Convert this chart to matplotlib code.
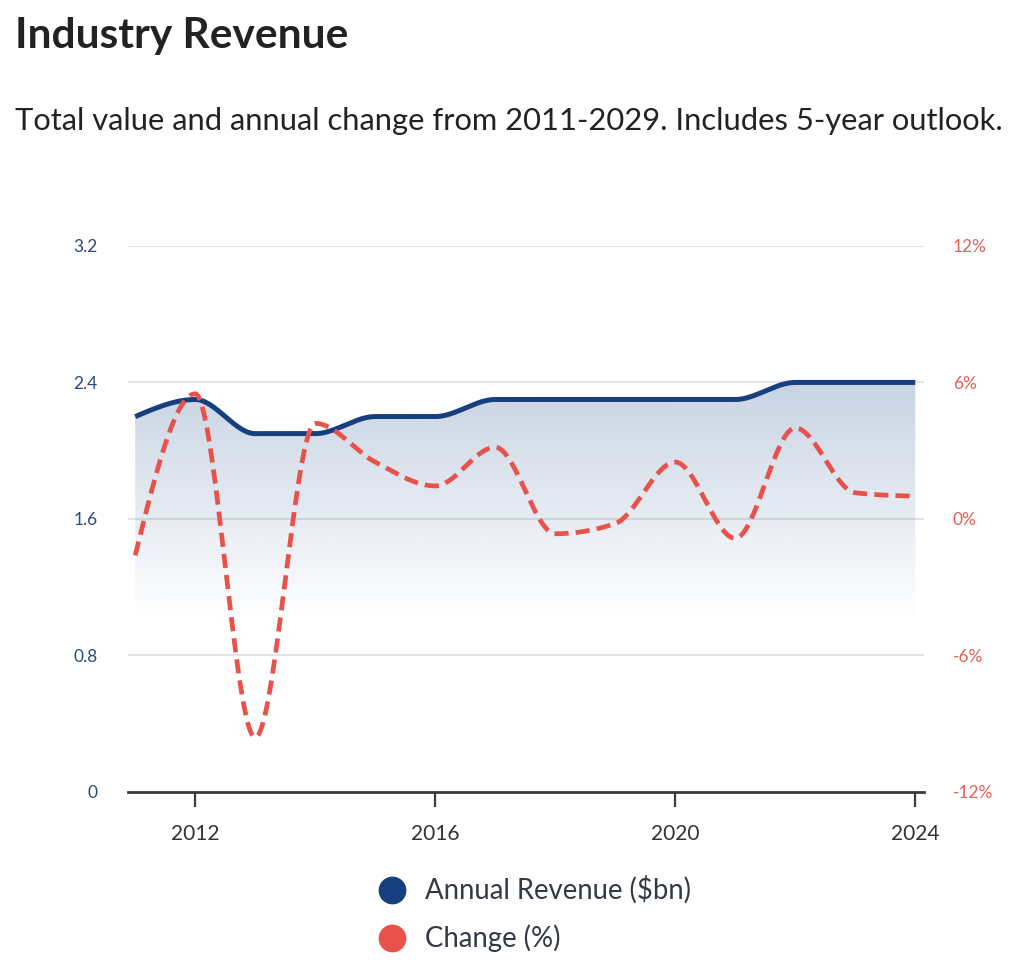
import numpy as np
import matplotlib
matplotlib.use("Agg")
import matplotlib.pyplot as plt
from matplotlib.lines import Line2D

plt.rcParams['font.family'] = ['Lato', 'DejaVu Sans']

years = [2011, 2012, 2013, 2014, 2015, 2016, 2017, 2018, 2019, 2020, 2021, 2022, 2023, 2024]
revenue = [2.2, 2.3, 2.1, 2.1, 2.2, 2.2, 2.3, 2.3, 2.3, 2.3, 2.3, 2.4, 2.4, 2.4]
change = [-1.6, 5.5, -9.6, 4.2, 2.5, 1.45, 3.15, -0.65, -0.2, 2.5, -0.85, 4.0, 1.15, 1.0]

left_ticks = [0, 0.8, 1.6, 2.4, 3.2]
left_labels = ["0", "0.8", "1.6", "2.4", "3.2"]
right_ticks = [-12, -6, 0, 6, 12]
right_labels = ["-12%", "-6%", "0%", "6%", "12%"]
x_ticks = [2012, 2016, 2020, 2024]
series_names = ["Annual Revenue ($bn)", "Change (%)"]

NAVY = "#173f7f"
RED = "#e8524a"


def monotone(x, y, n=60):
    # monotone cubic (same idea as d3.curveMonotoneX)
    x = np.asarray(x, float)
    y = np.asarray(y, float)
    h = np.diff(x)
    s = np.diff(y) / h
    m = np.zeros_like(y)
    for k in range(1, len(x) - 1):
        s0, s1 = s[k - 1], s[k]
        p = (s0 * h[k] + s1 * h[k - 1]) / (h[k - 1] + h[k])
        sg = (-1 if s0 < 0 else 1) + (-1 if s1 < 0 else 1)
        m[k] = sg * min(abs(s0), abs(s1), 0.5 * abs(p))
    m[0] = (3 * s[0] - m[1]) / 2
    m[-1] = (3 * s[-1] - m[-2]) / 2
    xs, ys = [], []
    for k in range(len(x) - 1):
        t = np.linspace(0, 1, n, endpoint=(k == len(x) - 2))
        h00 = 2 * t**3 - 3 * t**2 + 1
        h10 = t**3 - 2 * t**2 + t
        h01 = -2 * t**3 + 3 * t**2
        h11 = t**3 - t**2
        xs.append(x[k] + t * h[k])
        ys.append(h00 * y[k] + h10 * h[k] * m[k] + h01 * y[k + 1] + h11 * h[k] * m[k + 1])
    return np.concatenate(xs), np.concatenate(ys)


fig = plt.figure(figsize=(10.24, 9.72), dpi=100)
ax = fig.add_axes([0.125, 0.1852, 0.777, 0.5618])
ax2 = ax.twinx()

for v in left_ticks[1:]:
    ax.axhline(v, color="#e4e4e6", lw=1.6, zorder=0)

rx, ry = monotone(years, revenue)
cx, cy = monotone(years, change)

# gradient fill under revenue
poly = ax.fill_between(rx, ry, 0, color="none", lw=0)
grad_y = np.linspace(0, 2.4, 256)
alpha = np.clip((grad_y - 1.0) / 1.4, 0, 1) * 0.24
img = np.zeros((256, 1, 4))
img[:, 0, 0] = 0x1a / 255
img[:, 0, 1] = 0x4a / 255
img[:, 0, 2] = 0x8a / 255
img[:, 0, 3] = alpha
im = ax.imshow(img, extent=[years[0], years[-1], 0, 2.4], origin="lower",
               aspect="auto", zorder=1, interpolation="bilinear")
im.set_clip_path(poly.get_paths()[0], transform=ax.transData)

ax.plot(rx, ry, color=NAVY, lw=3.6, solid_capstyle="butt", zorder=3)
ax2.plot(cx, cy, color=RED, lw=3.4, dashes=(3.0, 1.5), dash_capstyle="butt", zorder=3)

ax.set_xlim(2010.88, 2024.14)
ax.set_ylim(0, 3.2)
ax2.set_ylim(-12, 12)

for a in (ax, ax2):
    for sp in a.spines.values():
        sp.set_visible(False)
ax.spines["bottom"].set_visible(True)
ax.spines["bottom"].set_color("#3a3a3a")
ax.spines["bottom"].set_linewidth(2)

ax.set_xticks(x_ticks)
ax.set_xticklabels([str(v) for v in x_ticks])
ax.tick_params(axis="x", length=11, width=1.6, color="#3a3a3a", pad=12,
               labelsize=15, labelcolor="#333333")

ax.set_yticks(left_ticks)
ax.set_yticklabels(left_labels)
ax.tick_params(axis="y", length=0, pad=22, labelsize=12.5, labelcolor="#2b4a7c")

ax2.set_yticks(right_ticks)
ax2.set_yticklabels(right_labels)
ax2.tick_params(axis="y", length=0, pad=21, labelsize=12.5, labelcolor="#e0605a")

fig.text(15 / 1024, 1 - 36 / 972, "Industry Revenue", fontsize=30.5, fontweight="bold",
         color="#222222", va="center", ha="left")
fig.text(15 / 1024, 1 - 121 / 972, "Total value and annual change from 2011-2029. Includes 5-year outlook.",
         fontsize=22.2, color="#222222", va="center", ha="left")

# legend drawn by hand in figure coordinates
for i, (name, col) in enumerate(zip(series_names, [NAVY, RED])):
    yy = 1 - (890 + 48 * i) / 972
    fig.add_artist(Line2D([392 / 1024], [yy], marker="o", ls="none", ms=19,
                          color=col, transform=fig.transFigure))
    fig.text(425 / 1024, yy, name, fontsize=19.8, color="#333a44", va="center", ha="left")

fig.savefig("out.png", dpi=100, facecolor="white")
